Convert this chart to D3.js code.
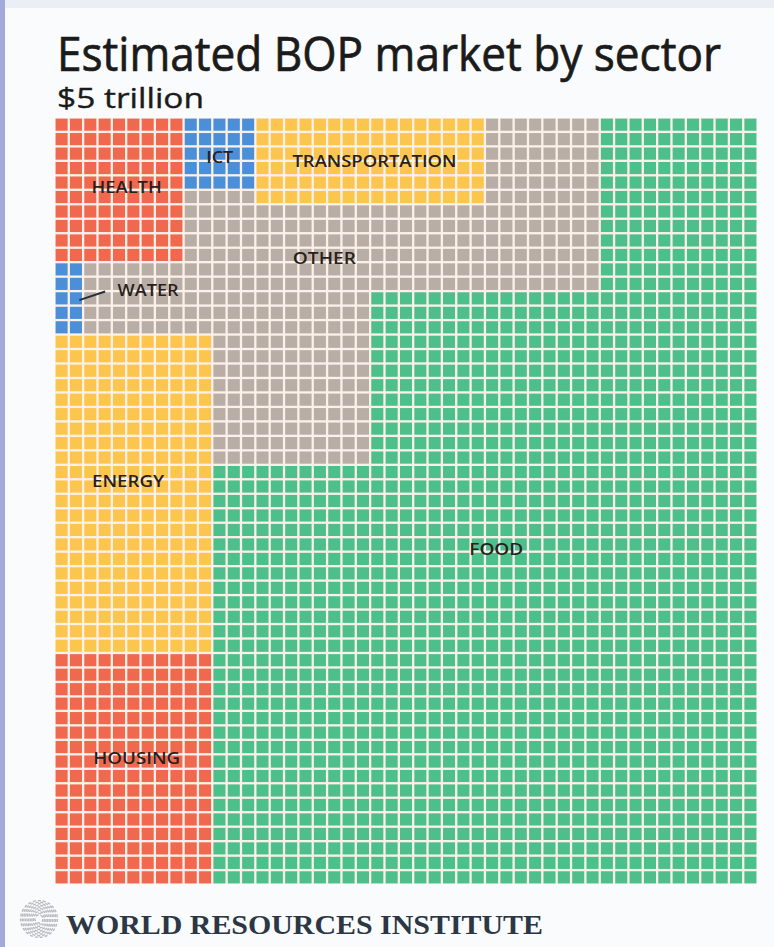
<!DOCTYPE html>
<html><head><meta charset="utf-8">
<script src="https://cdn.jsdelivr.net/npm/d3@7"></script>
<style>
html,body{margin:0;padding:0;background:#fafbfc;}
svg{display:block;}
</style></head>
<body>
<script>
// ---- data ----
const title = "Estimated BOP market by sector";
const subtitle = "$5 trillion";
const source = "WORLD RESOURCES INSTITUTE";
const nCols = 49, nRows = 53;
const sectors = ["FOOD","ENERGY","HOUSING","TRANSPORTATION","HEALTH","ICT","WATER","OTHER"];
const sectorColors = ["#4cbf8b","#fcc64e","#f0694f","#fcc64e","#f0694f","#4b8fd8","#4b8fd8","#b8aea6"];
// blocks in grid units: [sector, firstCol, lastCol, firstRow, lastRow]
const blocks = [
  ["HEALTH",0,8,0,9],
  ["ICT",9,13,0,4],
  ["TRANSPORTATION",14,29,0,5],
  ["WATER",0,1,10,14],
  ["ENERGY",0,10,15,36],
  ["HOUSING",0,10,37,52],
  ["FOOD",38,48,0,52],
  ["FOOD",22,37,12,52],
  ["FOOD",11,21,24,52]
];
const fallbackSector = "OTHER";
// label anchors in grid units
const labelNames = ["HEALTH","ICT","TRANSPORTATION","OTHER","WATER","ENERGY","FOOD","HOUSING"];
const labelCols = [5.0,11.5,22.3,18.8,6.5,5.1,30.8,5.7];
const labelRows = [4.8,2.7,3.0,9.7,11.9,25.1,29.8,44.3];
const labelWidths = [70,27,164,63,61,72,54,87];

// ---- drawing ----
const W = 774, H = 947;
const svg = d3.select("body").append("svg").attr("width",W).attr("height",H);
svg.append("rect").attr("width",W).attr("height",H).attr("fill","#fafbfc");
svg.append("rect").attr("x",0).attr("y",0).attr("width",W).attr("height",8).attr("fill","#eceef6");
svg.append("rect").attr("x",0).attr("y",0).attr("width",5).attr("height",H).attr("fill","#a3a9db");

svg.append("text").attr("x",57).attr("y",71).attr("font-family","Open Sans")
  .attr("font-size",48).attr("fill","#1b1b1b").attr("stroke","#1b1b1b").attr("stroke-width",0.7)
  .attr("textLength",664).attr("lengthAdjust","spacingAndGlyphs")
  .text(title);
svg.append("text").attr("x",57).attr("y",108).attr("font-family","Open Sans")
  .attr("font-size",28).attr("fill","#1b1b1b").attr("stroke","#1b1b1b").attr("stroke-width",0.4)
  .attr("textLength",147).attr("lengthAdjust","spacingAndGlyphs")
  .text(subtitle);

const x = d3.scaleBand().domain(d3.range(nCols)).range([55,757]).paddingInner(0.16).paddingOuter(0.04);
const y = d3.scaleBand().domain(d3.range(nRows)).range([118,884]).paddingInner(0.16).paddingOuter(0.04);
const color = d3.scaleOrdinal().domain(sectors).range(sectorColors);
const xc = d3.scaleLinear().domain([0,nCols]).range([55,757]);
const yc = d3.scaleLinear().domain([0,nRows]).range([118,884]);

function sectorAt(c,r){
  for(const b of blocks){ if(c>=b[1]&&c<=b[2]&&r>=b[3]&&r<=b[4]) return b[0]; }
  return fallbackSector;
}
const cells = [];
for(let r=0;r<nRows;r++) for(let c=0;c<nCols;c++) cells.push({c,r,s:sectorAt(c,r)});

// light gap background
svg.append("rect").attr("x",55).attr("y",118).attr("width",702).attr("height",766).attr("fill","#fbf1ea");
svg.append("g").selectAll("rect").data(cells).join("rect")
  .attr("x",d=>x(d.c)).attr("y",d=>y(d.r))
  .attr("width",x.bandwidth()).attr("height",y.bandwidth())
  .attr("fill",d=>color(d.s));

// labels
const lg = svg.append("g").attr("font-family","Open Sans").attr("font-size",17).attr("font-weight",600)
  .attr("fill","#2a1f1c").attr("text-anchor","middle");
labelNames.forEach((n,i)=>{
  lg.append("text").attr("x",xc(labelCols[i])).attr("y",yc(labelRows[i])+6).text(n)
    .attr("textLength", labelWidths[i]).attr("lengthAdjust","spacingAndGlyphs");
});
// water leader
svg.append("line").attr("x1",xc(1.7)).attr("y1",yc(12.6)).attr("x2",xc(3.5)).attr("y2",yc(12.0))
  .attr("stroke","#22313a").attr("stroke-width",2);

// footer logo
const logo = svg.append("g").attr("transform","translate(39,919)");
for(let i=0;i<10;i++){
  logo.append("circle").attr("r",4+i*1.6).attr("fill","none").attr("stroke","#b7bcc2")
    .attr("stroke-width",1.4).attr("stroke-dasharray","3,2");
}
svg.append("text").attr("x",66).attr("y",934).attr("font-family","Liberation Serif")
  .attr("font-size",28).attr("font-weight","bold").attr("fill","#2b3744")
  .attr("textLength",477).attr("lengthAdjust","spacingAndGlyphs").text(source);
</script>
</body></html>
